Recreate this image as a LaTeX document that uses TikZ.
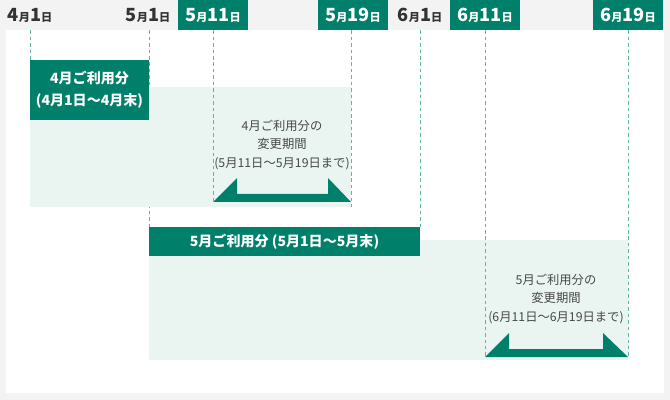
\documentclass[tikz,border=0pt]{standalone}
\usepackage{fontspec}
\setmainfont{Noto Sans CJK JP}
\usepackage{tikz}
\usetikzlibrary{positioning}
\usepackage{xcolor}
\definecolor{bggray}{HTML}{F3F3F3}
\definecolor{cardgreen}{HTML}{00806A}
\definecolor{palegreen}{HTML}{EAF5F1}
\definecolor{dashgreen}{HTML}{62B5A0}
\definecolor{inkgray}{HTML}{333333}
\newcommand{\hdate}[2]{{\fontsize{15.5}{15.5}\selectfont #1}{\fontsize{9.5}{9.5}\selectfont 月}{\fontsize{15.5}{15.5}\selectfont #2}{\fontsize{9.5}{9.5}\selectfont 日}}
\tikzset{
  hdr/.style={minimum width=2.1cm, minimum height=0.9cm, inner sep=0pt, text=inkgray, font=\bfseries},
  hdrbox/.style={hdr, fill=cardgreen, text=white},
  guide/.style={dashgreen, line width=0.6pt, dash pattern=on 3pt off 2.5pt},
  termbox/.style={fill=cardgreen, text=white, inner sep=0pt, font=\bfseries\fontsize{12}{18.5}\selectfont, align=center},
  chgtext/.style={text=inkgray!90, font=\fontsize{10.5}{15.5}\selectfont, align=center}
}

\begin{document}
\begin{tikzpicture}[x=0.03cm, y=-0.03cm]
\useasboundingbox (0,0) rectangle (670,400);
\fill[bggray] (0,0) rectangle (670,400);
\fill[white] (6,30) rectangle (664,393);
% date header
\node[hdr] (d0401) at (30,15) {\hdate{4}{1}};
\node[hdr] (d0501) at (148,15) {\hdate{5}{1}};
\node[hdrbox] (d0511) at (213,15) {\hdate{5}{11}};
\node[hdrbox] (d0519) at (353,15) {\hdate{5}{19}};
\node[hdr] (d0601) at (420,15) {\hdate{6}{1}};
\node[hdrbox] (d0611) at (485,15) {\hdate{6}{11}};
\node[hdrbox] (d0619) at (628,15) {\hdate{6}{19}};
\coordinate (e0401) at (30,60);
\coordinate (e0501) at (149,227);
\coordinate (e0511) at (213,202);
\coordinate (e0519) at (351,207);
\coordinate (e0601) at (420,227);
\coordinate (e0611) at (485,357);
\coordinate (e0619) at (628,357);
\draw[guide] (d0401.south) -- (e0401);
\draw[guide] (d0501.south -| e0501) -- (e0501);
\draw[guide] (d0601.south) -- (e0601);
% usage periods
\fill[palegreen] (30,87) rectangle (351,207);
\fill[palegreen] (149,240) rectangle (628,360);
\draw[guide] (d0511.south) -- (e0511);
\draw[guide] (d0519.south -| e0519) -- (e0519);
\draw[guide] (d0611.south -| e0611) -- (e0611);
\draw[guide] (d0619.south) -- (e0619);
\node[termbox, minimum width=3.57cm, minimum height=1.8cm] (aprbox) at (89.5,90) {4月ご利用分\\(4月1日〜4月末)};
\node[termbox, minimum width=8.13cm, minimum height=0.87cm] (maybar) at (284.5,241.5) {5月ご利用分 (5月1日〜5月末)};
% change windows
\fill[cardgreen] (213,202) -- (237,178) -- (237,194) -- (328,194) -- (328,178) -- (351,202) -- cycle;
\fill[cardgreen] (485,357) -- (509,333) -- (509,349) -- (603,349) -- (603,333) -- (628,357) -- cycle;
\node[chgtext] (aprchg) at (282,145) {4月ご利用分の\\変更期間\\(5月11日〜5月19日まで)};
\node[chgtext] (maychg) at (556,299) {5月ご利用分の\\変更期間\\(6月11日〜6月19日まで)};
\end{tikzpicture}
\end{document}
